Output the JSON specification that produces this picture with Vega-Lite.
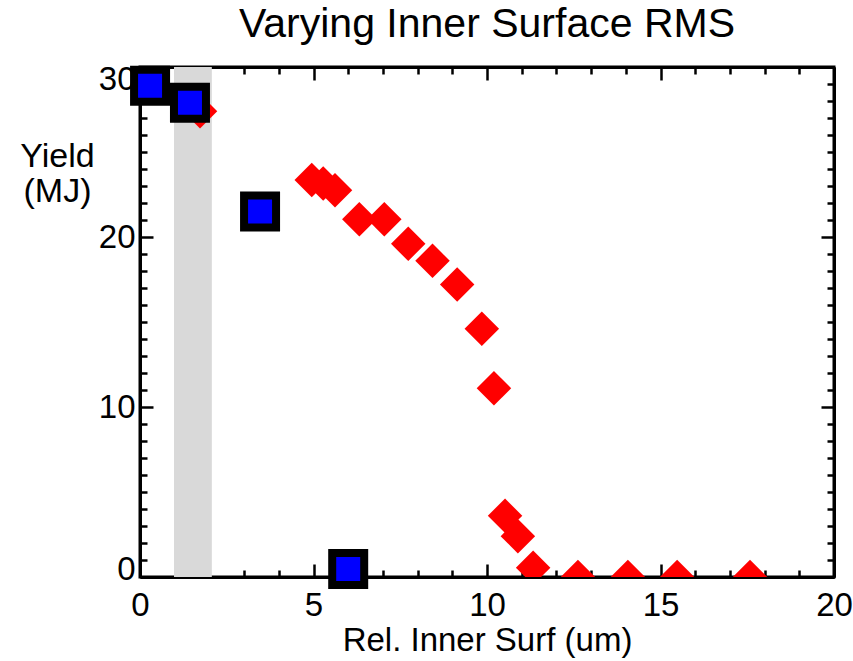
{
  "$schema": "https://vega.github.io/schema/vega-lite/v6.json",
  "width": 694,
  "height": 510,
  "autosize": {"type": "none"},
  "padding": {"left": 140, "top": 67, "right": 19, "bottom": 84},
  "background": "white",
  "config": {
    "font": "Liberation Sans",
    "view": {"stroke": "black", "strokeWidth": 3},
    "axis": {
      "domain": true,
      "domainColor": "black",
      "domainWidth": 3,
      "grid": false,
      "tickColor": "black",
      "tickWidth": 2.5,
      "labelFont": "Liberation Sans",
      "labelFontSize": 33,
      "labelColor": "black",
      "titleFont": "Liberation Sans",
      "titleFontSize": 33,
      "titleFontWeight": "normal",
      "titleColor": "black"
    }
  },
  "title": {
    "text": "Varying Inner Surface RMS",
    "fontSize": 41,
    "fontWeight": "normal",
    "font": "Liberation Sans",
    "color": "black",
    "anchor": "middle",
    "baseline": "alphabetic",
    "offset": 0,
    "dy": 24
  },
  "datasets": {
    "band": [{"x1": 0.98, "x2": 2.07}],
    "diamonds": [
      {"x": 1.73, "y": 27.4},
      {"x": 4.95, "y": 23.35},
      {"x": 5.28, "y": 23.15},
      {"x": 5.62, "y": 22.75},
      {"x": 6.32, "y": 21.05},
      {"x": 7.04, "y": 21.05},
      {"x": 7.73, "y": 19.6},
      {"x": 8.43, "y": 18.6},
      {"x": 9.14, "y": 17.2},
      {"x": 9.85, "y": 14.6},
      {"x": 10.2, "y": 11.1},
      {"x": 10.52, "y": 3.6},
      {"x": 10.89, "y": 2.4},
      {"x": 11.33, "y": 0.55},
      {"x": 12.62, "y": 0},
      {"x": 14.06, "y": 0},
      {"x": 15.48, "y": 0},
      {"x": 17.58, "y": 0}
    ],
    "squares": [
      {"x": 0.29, "y": 28.9},
      {"x": 1.44, "y": 27.9},
      {"x": 3.46, "y": 21.5},
      {"x": 6.0, "y": 0.47}
    ]
  },
  "resolve": {"axis": {"x": "independent", "y": "independent"}},
  "layer": [
    {
      "data": {"name": "band"},
      "mark": {"type": "rect", "color": "#d9d9d9"},
      "encoding": {
        "x": {
          "field": "x1", "type": "quantitative",
          "scale": {"domain": [0, 20], "nice": false, "zero": false},
          "axis": {
            "orient": "bottom",
            "title": "Rel. Inner Surf (um)",
            "titleY": 73,
            "titleBaseline": "alphabetic",
            "values": [0,1,2,3,4,5,6,7,8,9,10,11,12,13,14,15,16,17,18,19,20],
            "labelExpr": "datum.value % 5 === 0 ? datum.label : ''",
            "tickSize": {"condition": {"test": "datum.value % 5 === 0", "value": -13}, "value": -7},
            "labelPadding": 51,
            "labelFlush": false,
            "labelBaseline": "alphabetic"
          }
        },
        "x2": {"field": "x2"}
      }
    },
    {
      "data": {"name": "diamonds"},
      "mark": {"type": "point", "shape": "diamond", "filled": true, "color": "#ff0000", "opacity": 1, "size": 1190, "clip": true},
      "encoding": {
        "x": {
          "field": "x", "type": "quantitative",
          "scale": {"domain": [0, 20], "nice": false, "zero": false},
          "axis": {
            "orient": "top",
            "title": null,
            "labels": false,
            "values": [0,1,2,3,4,5,6,7,8,9,10,11,12,13,14,15,16,17,18,19,20],
            "tickSize": {"condition": {"test": "datum.value % 5 === 0", "value": -13}, "value": -7}
          }
        },
        "y": {
          "field": "y", "type": "quantitative",
          "scale": {"domain": [0, 30], "nice": false, "zero": false},
          "axis": {
            "orient": "left",
            "title": ["Yield", "(MJ)"],
            "titleFontSize": 34,
            "titleAngle": 0,
            "titleAlign": "center",
            "titleBaseline": "alphabetic",
            "titleX": -83,
            "titleY": 99,
            "titleLineHeight": 35,
            "values": [0,1,2,3,4,5,6,7,8,9,10,11,12,13,14,15,16,17,18,19,20,21,22,23,24,25,26,27,28,29,30],
            "labelExpr": "datum.value % 10 === 0 ? datum.label : ''",
            "tickSize": {"condition": {"test": "datum.value % 10 === 0", "value": -13}, "value": -7},
            "labelPadding": 18,
            "labelFlush": false,
            "labelBaseline": "middle",
            "labelOffset": {"condition": [{"test": "datum.value === 30", "value": 12}, {"test": "datum.value === 0", "value": -8}], "value": 0}
          }
        }
      }
    },
    {
      "data": {"name": "squares"},
      "mark": {"type": "point", "shape": "square", "filled": true, "fill": "#0000ff", "stroke": "black", "strokeWidth": 8, "opacity": 1, "size": 1024},
      "encoding": {
        "x": {
          "field": "x", "type": "quantitative",
          "scale": {"domain": [0, 20], "nice": false, "zero": false},
          "axis": null
        },
        "y": {
          "field": "y", "type": "quantitative",
          "scale": {"domain": [0, 30], "nice": false, "zero": false},
          "axis": {
            "orient": "right",
            "title": null,
            "labels": false,
            "values": [0,1,2,3,4,5,6,7,8,9,10,11,12,13,14,15,16,17,18,19,20,21,22,23,24,25,26,27,28,29,30],
            "tickSize": {"condition": {"test": "datum.value % 10 === 0", "value": -13}, "value": -7}
          }
        }
      }
    }
  ]
}
